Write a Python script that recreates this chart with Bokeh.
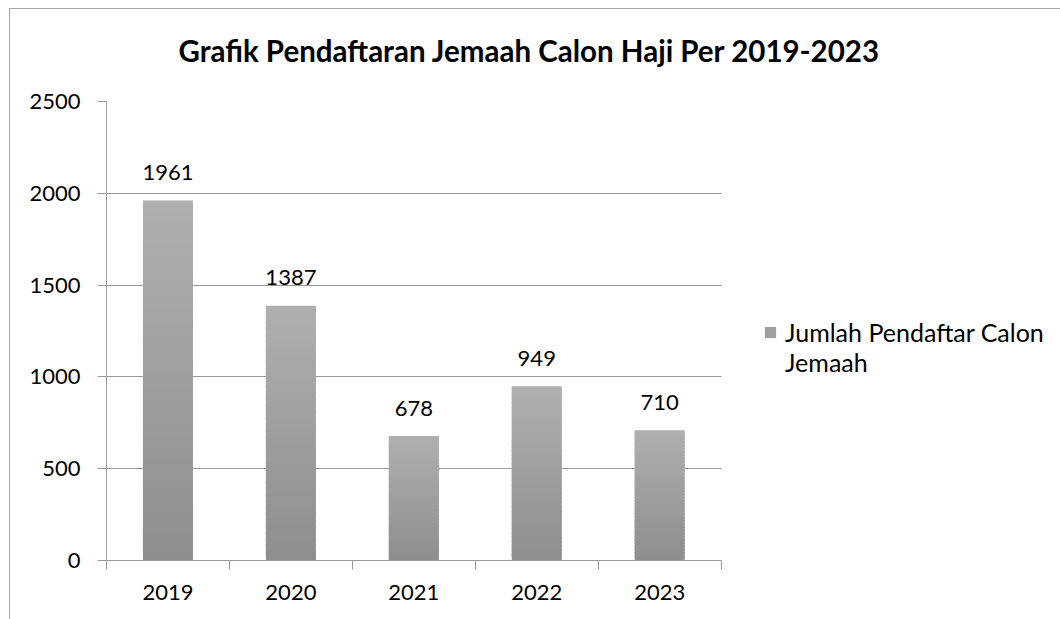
from bokeh.plotting import figure
from bokeh.models import (Range1d, FixedTicker, Legend, LegendItem, ColumnDataSource, Title)
from bokeh.core.properties import value
from bokeh.embed import file_html
from bokeh.resources import INLINE

# ---- data ----
years = ["2019", "2020", "2021", "2022", "2023"]
counts = [1961, 1387, 678, 949, 710]
y_ticks = [0, 500, 1000, 1500, 2000, 2500]
title_text = "Grafik Pendaftaran Jemaah Calon Haji Per 2019-2023"
series_lines = ["Jumlah Pendaftar Calon", "Jemaah"]

FONT = "Lato"

# layout (pixels): plotting area is 614 px wide inside a frame that also holds the legend
LEFT, FRAME_W, AREA_W = 96, 954, 614

def lerp_color(c1, c2, t):
    a = [int(c1[i:i + 2], 16) for i in (1, 3, 5)]
    b = [int(c2[i:i + 2], 16) for i in (1, 3, 5)]
    return "#" + "".join("%02x" % round(a[k] + (b[k] - a[k]) * t) for k in range(3))

# gradient strips for each bar (dark bottom -> light top)
N = 40
xs, bottoms, tops, colors = [], [], [], []
for i, v in enumerate(counts):
    for k in range(N):
        xs.append(i + 0.5)
        bottoms.append(v * k / N)
        tops.append(min(v, v * (k + 1.6) / N))
        colors.append(lerp_color("#8e8e8e", "#afafaf", k / (N - 1)))
src = ColumnDataSource(dict(x=xs, bottom=bottoms, top=tops, color=colors))

n = len(years)
p = figure(width=1051, height=611, output_backend="svg", toolbar_location=None,
           x_range=Range1d(0, n * FRAME_W / AREA_W), y_range=Range1d(0, 2500),
           min_border_left=LEFT, min_border_right=0, min_border_top=92, min_border_bottom=60)
p.margin = (8, 0, 0, 9)
p.styles = {"border-top": "1px solid #a6a6a6", "border-left": "1px solid #a6a6a6"}
p.outline_line_color = None
p.background_fill_color = "white"
p.border_fill_color = "white"

r = p.vbar(x="x", bottom="bottom", top="top", width=0.407, fill_color="color",
           line_color=None, source=src)
# empty, invisible renderer used only for the legend's wrapped second line
r_blank = p.vbar(x=[], top=[], width=0.4, fill_alpha=0, line_alpha=0)

# data labels
lab = ColumnDataSource(dict(x=[i + 0.5 for i in range(n)], y=counts,
                            t=[str(c) for c in counts]))
p.text(x="x", y="y", text="t", source=lab, text_align="center", text_baseline="middle",
       y_offset=-28, text_font=value(FONT), text_font_size="22px", text_color="#000000")

# spacer between title and plot, then the title
p.add_layout(Title(text=" ", text_font_size="10px", standoff=21), "above")
p.title.text = title_text
p.title.text_font = FONT
p.title.text_font_size = "29.5px"
p.title.text_font_style = "bold"
p.title.align = "left"
p.title.offset = 72
p.title.standoff = 0
p.title.text_color = "#000000"

GRAY = "#9a9a9a"
# y axis
p.yaxis.ticker = FixedTicker(ticks=y_ticks)
p.yaxis.axis_line_color = GRAY
p.yaxis.major_tick_line_color = GRAY
p.yaxis.major_tick_out = 9
p.yaxis.major_tick_in = 0
p.yaxis.minor_tick_line_color = None
p.yaxis.major_label_standoff = 17
p.yaxis.major_label_text_font = FONT
p.yaxis.major_label_text_font_size = "22px"
p.yaxis.major_label_text_color = "#000000"

# x axis: labels at category centres, ticks at category boundaries
p.xaxis.bounds = (0, n)
p.xaxis.ticker = FixedTicker(ticks=[i + 0.5 for i in range(n)],
                             minor_ticks=list(range(n + 1)))
p.xaxis.major_label_overrides = {i + 0.5: y for i, y in enumerate(years)}
p.xaxis.axis_line_color = GRAY
p.xaxis.major_tick_line_color = None
p.xaxis.major_tick_out = 0
p.xaxis.major_tick_in = 0
p.xaxis.minor_tick_line_color = GRAY
p.xaxis.minor_tick_out = 9
p.xaxis.minor_tick_in = 0
p.xaxis.major_label_standoff = 15
p.xaxis.major_label_text_font = FONT
p.xaxis.major_label_text_font_size = "22px"
p.xaxis.major_label_text_color = "#000000"

p.xgrid.grid_line_color = None
p.ygrid.grid_line_color = GRAY
p.ygrid.ticker = FixedTicker(ticks=y_ticks)
p.ygrid.cross_bounds = (0, n)

legend = Legend(items=[LegendItem(label=series_lines[0], renderers=[r], index=N // 2),
                       LegendItem(label=series_lines[1], renderers=[r_blank])],
                location=(AREA_W + 43, 183), padding=0, margin=0, border_line_color=None,
                background_fill_alpha=0, glyph_width=14, glyph_height=14,
                label_height=25, spacing=0,
                label_text_font=FONT, label_text_font_size="25px",
                label_text_color="#000000", label_standoff=8)
p.add_layout(legend, "center")

open("out.html", "w").write(file_html(p, INLINE))
